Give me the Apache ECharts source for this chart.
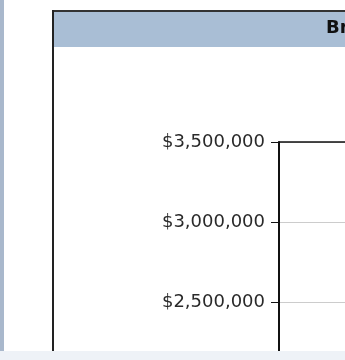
<!DOCTYPE html>
<html>
<head>
<meta charset="utf-8">
<script src="https://cdn.jsdelivr.net/npm/echarts@6/dist/echarts.min.js"></script>
<style>
html,body{margin:0;padding:0;background:#fff;overflow:hidden;width:345px;height:360px;}
#chart{width:345px;height:400px;}
</style>
</head>
<body>
<div id="chart"></div>
<script>
var titleText = 'Br';
var categories = ['A'];
var seriesValues = [null];
var yTicks = [2000000, 2500000, 3000000, 3500000];
var yMin = 2000000;
var yMax = 3500000;
var yInterval = 500000;

var chart = echarts.init(document.getElementById('chart'), null, {renderer: 'canvas'});

function money(v) {
  return '$' + String(v).replace(/\B(?=(\d{3})+(?!\d))/g, ',');
}

chart.setOption({
  animation: false,
  backgroundColor: '#ffffff',
  grid: {left: 279, top: 142, width: 400, height: 240, containLabel: false},
  xAxis: {
    type: 'category',
    data: categories,
    position: 'top',
    axisLine: {show: true, lineStyle: {color: '#111', width: 1.5}},
    axisTick: {show: false},
    axisLabel: {show: false},
    splitLine: {show: false}
  },
  yAxis: {
    type: 'value',
    min: yMin,
    max: yMax,
    interval: yInterval,
    axisLine: {show: true, lineStyle: {color: '#111', width: 2}},
    axisTick: {show: true, length: 8, lineStyle: {color: '#111', width: 1}},
    axisLabel: {
      margin: 14,
      color: '#2a2a2a',
      fontFamily: 'DejaVu Sans',
      fontSize: 18,
      formatter: function (v) { return yTicks.indexOf(v) >= 0 ? money(v) : ''; }
    },
    splitLine: {show: true, lineStyle: {color: '#cccccc', width: 1}}
  },
  series: [{type: 'bar', data: seriesValues}],
  graphic: [
    {type: 'rect', shape: {x: 0, y: 0, width: 4, height: 400}, style: {fill: '#a9b8cc'}, z: 10},
    {type: 'rect', shape: {x: 53, y: 12, width: 300, height: 35}, style: {fill: '#a9bed5'}, z: 10},
    {type: 'line', shape: {x1: 52, y1: 11, x2: 345, y2: 11}, style: {stroke: '#333', lineWidth: 2}, z: 11},
    {type: 'line', shape: {x1: 53, y1: 10, x2: 53, y2: 351}, style: {stroke: '#222', lineWidth: 2}, z: 11},
    {type: 'text', x: 326, y: 37, style: {text: titleText, font: 'bold 18px "DejaVu Sans"', fill: '#111', verticalAlign: 'bottom'}, z: 12},
    {type: 'rect', shape: {x: 0, y: 351, width: 345, height: 49}, style: {fill: '#eef2f7'}, z: 20}
  ]
});
</script>
</body>
</html>
